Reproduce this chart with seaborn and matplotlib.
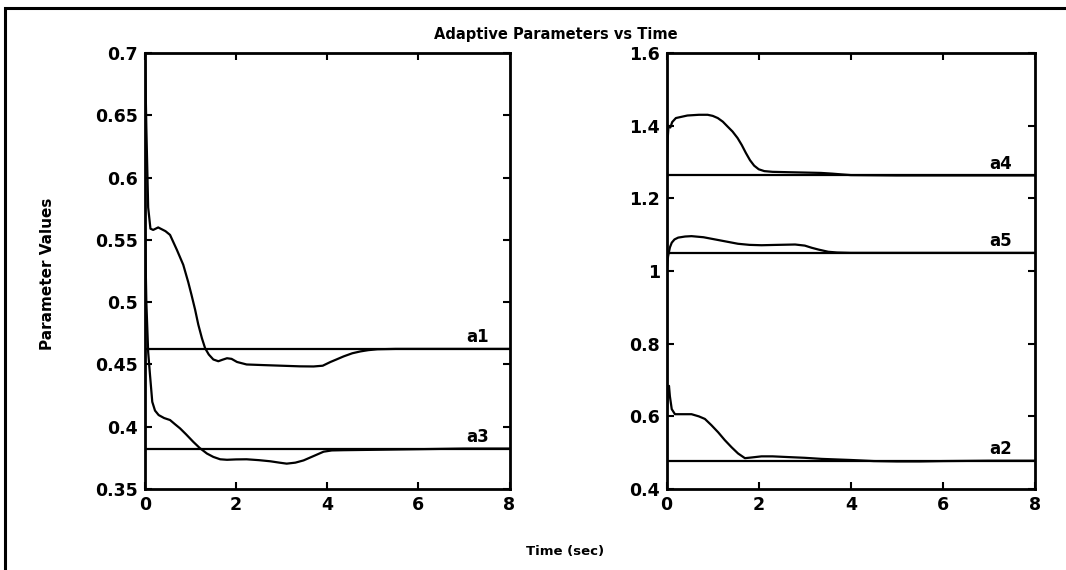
import numpy as np
import pandas as pd
import seaborn as sns
import matplotlib.pyplot as plt
from matplotlib.patches import Rectangle

# valori finali (linee orizzontali)
a1_true = 0.4625
a3_true = 0.3825
a4_true = 1.263
a5_true = 1.050
a2_true = 0.478

# stima di a1
t_a1 = [0, 0.03, 0.07, 0.12, 0.18, 0.29, 0.45, 0.55, 0.7, 0.84, 0.95, 1.02, 1.1, 1.17,
        1.25, 1.32, 1.4, 1.5, 1.61, 1.7, 1.8, 1.9, 2.02, 2.23, 2.6, 3.0, 3.4, 3.7, 3.9,
        4.07, 4.2, 4.36, 4.55, 4.73, 4.9, 5.1, 5.5, 6.0, 7.0, 8.0]
v_a1 = [0.70, 0.64, 0.576, 0.559, 0.558, 0.560, 0.557, 0.554, 0.542, 0.530, 0.516, 0.506,
        0.494, 0.482, 0.471, 0.463, 0.458, 0.454, 0.4526, 0.4538, 0.455, 0.4545, 0.452,
        0.450, 0.4495, 0.449, 0.4485, 0.4484, 0.449, 0.452, 0.454, 0.4565, 0.459, 0.4605,
        0.4615, 0.4622, 0.4625, 0.4625, 0.4625, 0.4625]

# stima di a3
t_a3 = [0, 0.03, 0.07, 0.11, 0.16, 0.22, 0.30, 0.42, 0.55, 0.66, 0.77, 0.9, 1.06, 1.2,
        1.36, 1.5, 1.65, 1.8, 2.0, 2.23, 2.5, 2.75, 2.95, 3.11, 3.3, 3.48, 3.7, 3.92,
        4.1, 4.36, 5.0, 6.0, 7.0, 8.0]
v_a3 = [0.56, 0.50, 0.46, 0.4417, 0.420, 0.413, 0.4094, 0.407, 0.4054, 0.402, 0.3987,
        0.394, 0.3879, 0.383, 0.3785, 0.3758, 0.3739, 0.3735, 0.3738, 0.3739, 0.3732,
        0.3723, 0.3712, 0.3704, 0.3712, 0.373, 0.3765, 0.380, 0.381, 0.3812, 0.3815,
        0.382, 0.3825, 0.3825]

# stima di a4
t_a4 = [0, 0.02, 0.04, 0.08, 0.12, 0.2, 0.45, 0.7, 0.89, 1.0, 1.11, 1.22, 1.32, 1.43,
        1.54, 1.63, 1.72, 1.81, 1.9, 2.0, 2.12, 2.3, 2.63, 3.0, 3.35, 3.6, 3.79, 4.0,
        5.0, 6.0, 7.0, 8.0]
v_a4 = [1.27, 1.36, 1.40, 1.395, 1.41, 1.421, 1.428, 1.430, 1.430, 1.427, 1.421, 1.411,
        1.398, 1.384, 1.366, 1.347, 1.325, 1.305, 1.290, 1.280, 1.275, 1.273, 1.272,
        1.271, 1.270, 1.268, 1.266, 1.264, 1.263, 1.263, 1.263, 1.263]

# stima di a5
t_a5 = [0, 0.03, 0.07, 0.11, 0.17, 0.25, 0.4, 0.54, 0.8, 1.05, 1.3, 1.55, 1.8, 2.06,
        2.4, 2.79, 3.0, 3.15, 3.3, 3.51, 3.7, 4.0, 5.0, 6.0, 7.0, 8.0]
v_a5 = [1.00, 1.04, 1.065, 1.078, 1.087, 1.092, 1.095, 1.096, 1.093, 1.087, 1.081, 1.075,
        1.072, 1.071, 1.072, 1.073, 1.070, 1.064, 1.059, 1.053, 1.051, 1.050, 1.050,
        1.050, 1.050, 1.050]

# stima di a2
t_a2 = [0, 0.02, 0.05, 0.07, 0.11, 0.18, 0.3, 0.54, 0.7, 0.83, 0.97, 1.12, 1.26, 1.41,
        1.55, 1.70, 1.85, 2.06, 2.3, 2.64, 3.0, 3.37, 4.0, 4.5, 5.0, 5.5, 6.0, 7.0, 8.0]
v_a2 = [0.60, 0.65, 0.684, 0.655, 0.62, 0.606, 0.606, 0.606, 0.600, 0.593, 0.576, 0.556,
        0.535, 0.515, 0.498, 0.485, 0.487, 0.490, 0.490, 0.488, 0.486, 0.483, 0.480,
        0.477, 0.476, 0.476, 0.477, 0.478, 0.478]

x_ticks = [0, 2, 4, 6, 8]
left_yticks = [0.35, 0.4, 0.45, 0.5, 0.55, 0.6, 0.65, 0.7]
left_ylabels = ["0.35", "0.4", "0.45", "0.5", "0.55", "0.6", "0.65", "0.7"]
right_yticks = [0.4, 0.6, 0.8, 1.0, 1.2, 1.4, 1.6]
right_ylabels = ["0.4", "0.6", "0.8", "1", "1.2", "1.4", "1.6"]

sns.set_style("ticks")
plt.rcParams['font.family'] = ['DejaVu Sans']
plt.rcParams['text.color'] = 'black'
plt.rcParams['axes.edgecolor'] = 'black'
plt.rcParams['xtick.color'] = 'black'
plt.rcParams['ytick.color'] = 'black'

fig = plt.figure(figsize=(10.66, 5.70), dpi=100)
ax1 = fig.add_axes([0.136, 0.142, 0.342, 0.765])
ax2 = fig.add_axes([0.6254, 0.142, 0.3455, 0.765])

lw = 1.6
for t, v in [(t_a1, v_a1), (t_a3, v_a3)]:
    sns.lineplot(x=t, y=v, color="black", linewidth=lw, ax=ax1)
for t, v in [(t_a4, v_a4), (t_a5, v_a5), (t_a2, v_a2)]:
    sns.lineplot(x=t, y=v, color="black", linewidth=lw, ax=ax2)

for val, name in [(a1_true, "a1"), (a3_true, "a3")]:
    ax1.axhline(val, color="black", linewidth=lw)
    ax1.text(7.3, val + 0.002, name, ha="center", va="bottom", fontsize=12, fontweight="bold")
for val, name in [(a4_true, "a4"), (a5_true, "a5"), (a2_true, "a2")]:
    ax2.axhline(val, color="black", linewidth=lw)
    ax2.text(7.25, val + 0.008, name, ha="center", va="bottom", fontsize=12, fontweight="bold")

# assi e tacche
for ax, yt, yl, ylim in [(ax1, left_yticks, left_ylabels, (0.35, 0.7)),
                         (ax2, right_yticks, right_ylabels, (0.4, 1.6))]:
    ax.set_xlim(0, 8)
    ax.set_ylim(*ylim)
    ax.set_xticks(x_ticks)
    ax.set_xticklabels([str(x) for x in x_ticks], fontsize=12.5, fontweight="bold")
    ax.set_yticks(yt)
    ax.set_yticklabels(yl, fontsize=12.5, fontweight="bold")
    ax.tick_params(direction="in", length=5, width=1.5, top=True, right=True, pad=5)
    for s in ax.spines.values():
        s.set_linewidth(2)
        s.set_visible(True)
    ax.set_xlabel("")
    ax.set_ylabel("")

fig.text(0.521, 0.939, "Adaptive Parameters vs Time", ha="center", va="center",
         fontsize=10.5, fontweight="bold")
fig.text(0.53, 0.032, "Time (sec)", ha="center", va="center", fontsize=9.5, fontweight="bold")
fig.text(0.045, 0.52, "Parameter Values", ha="center", va="center", rotation=90,
         fontsize=11, fontweight="bold", family=['Liberation Sans Narrow', 'DejaVu Sans'])

# cornice della figura
fig.add_artist(Rectangle((0.005, -0.02), 1.1, 1.006, transform=fig.transFigure,
                         fill=False, edgecolor="black", linewidth=2.2))

plt.savefig("out.png", dpi=100)
plt.close()
